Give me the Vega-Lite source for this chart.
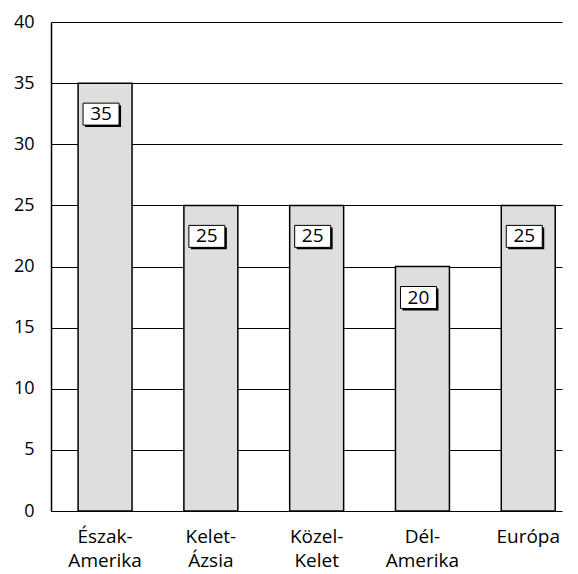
{
  "$schema": "https://vega.github.io/schema/vega-lite/v6.json",
  "autosize": "none",
  "width": 511,
  "height": 489,
  "padding": {"left": 51, "top": 22, "right": 16, "bottom": 63},
  "background": "white",
  "config": {
    "view": {"stroke": null},
    "font": "Open Sans",
    "axis": {"labelColor": "black", "labelFont": "Open Sans"}
  },
  "data": {
    "values": [
      {"region": "Észak-|Amerika", "value": 35},
      {"region": "Kelet-|Ázsia", "value": 25},
      {"region": "Közel-|Kelet", "value": 25},
      {"region": "Dél-|Amerika", "value": 20},
      {"region": "Európa", "value": 25}
    ]
  },
  "encoding": {
    "x": {
      "field": "region",
      "type": "nominal",
      "sort": null,
      "scale": {"paddingInner": 0.49, "paddingOuter": 0.16, "align": 0.8},
      "axis": {
        "title": null,
        "domain": false,
        "ticks": false,
        "labelAngle": 0,
        "labelFontSize": 19,
        "labelPadding": 16,
        "labelLineHeight": 24,
        "labelBaseline": "top",
        "labelExpr": "split(datum.value, '|')"
      }
    },
    "y": {
      "field": "value",
      "type": "quantitative",
      "scale": {"domain": [0, 40], "nice": false},
      "axis": {
        "title": null,
        "values": [0, 5, 10, 15, 20, 25, 30, 35, 40],
        "grid": true,
        "gridColor": "black",
        "gridOpacity": 1,
        "gridWidth": 1.2,
        "domain": true,
        "domainColor": "black",
        "domainWidth": 1.5,
        "ticks": false,
        "labelFontSize": 18,
        "labelPadding": 17
      }
    }
  },
  "layer": [
    {
      "mark": {"type": "bar", "fill": "#dedede", "stroke": "black", "strokeWidth": 1.5}
    },
    {
      "mark": {
        "type": "point",
        "shape": "M-1,-0.611H1V0.611H-1Z",
        "size": 1296,
        "filled": true,
        "fill": "black",
        "opacity": 1,
        "strokeWidth": 0,
        "xOffset": -2,
        "yOffset": 33
      }
    },
    {
      "mark": {
        "type": "point",
        "shape": "M-1,-0.611H1V0.611H-1Z",
        "size": 1296,
        "filled": false,
        "fill": "white",
        "fillOpacity": 1,
        "stroke": "black",
        "strokeWidth": 1,
        "opacity": 1,
        "xOffset": -4,
        "yOffset": 31
      }
    },
    {
      "mark": {
        "type": "text",
        "fontSize": 19,
        "color": "black",
        "baseline": "middle",
        "align": "center",
        "xOffset": -4,
        "yOffset": 31
      },
      "encoding": {"text": {"field": "value", "type": "quantitative"}}
    }
  ]
}
